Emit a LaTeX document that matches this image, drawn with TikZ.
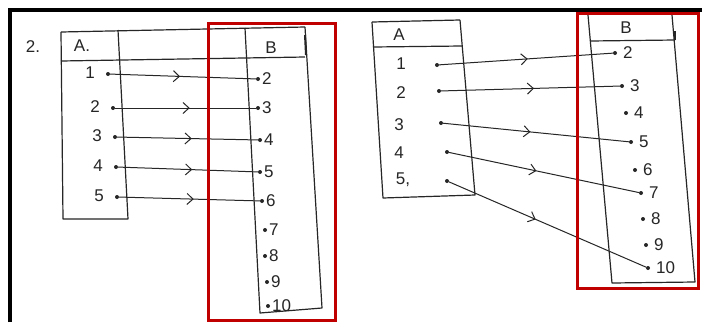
\documentclass[tikz,border=0pt]{standalone}
\usepackage{fontspec}
\setmainfont{Liberation Sans}
\usetikzlibrary{arrows.meta,decorations.markings}
\definecolor{redbox}{HTML}{C00000}
\definecolor{ink}{HTML}{262626}
\begin{document}
\begin{tikzpicture}[x=1pt,y=-1pt,
  frameline/.style={line width=3.5pt,black},
  hl/.style={ink,line width=1.2pt,line join=round},
  redframe/.style={draw=redbox,line width=3pt},
  dotn/.style={circle,fill=ink,inner sep=0pt,minimum size=4pt},
  lbl/.style={font=\fontsize{17}{17}\selectfont,text=ink,inner sep=0pt},
  mapline/.style={ink,line width=1pt,postaction={decorate},
    decoration={markings,mark=at position #1 with {\arrow{Straight Barb[length=6pt,width=11pt,line width=1pt]}}}},
]
\fill[white] (0,0) rectangle (702,322);
\useasboundingbox (0,0) rectangle (702,322);

% outer frame
\draw[frameline] (10,322) -- (10,10) -- (702,10);

% ---------- left diagram ----------
\node[lbl] (num) at (33,47) {2.};
% set A box
\draw[hl] (61,32) -- (305,27);
\draw[hl] (61,61) -- (305,57);
\draw[hl] (61,32) -- (63,219) -- (128,219) -- (118,30);
\node[lbl] (LA) at (82,46) {A.};
% set B box
\draw[hl] (245,28) -- (260,313) -- (322,308) -- (305,27);
\draw[ink,line width=2pt] (305,35) -- (306,55);
\node[lbl] (LB) at (271,48) {B};

% A elements
\foreach \i/\x/\y in {1/108/74,2/113/108,3/115/137,4/116/167,5/117/197}{
  \node[dotn] (la\i) at (\x,\y) {};
  \node[lbl,anchor=east] (lat\i) at (\x-13,\y-1) {\i};
}
% B elements
\foreach \i/\x/\y in {2/258/79,3/258/108,4/260/140,5/260/172,6/262/201,7/265/230,8/265/256,9/267/282,10/268/306}{
  \node[dotn] (lb\i) at (\x,\y) {};
  \node[lbl,anchor=west] (lbt\i) at (\x+4,\y) {\i};
}
\draw[mapline=0.48] (la1) -- (lb2);
\draw[mapline=0.53] (la2) -- (lb3);
\draw[mapline=0.53] (la3) -- (lb4);
\draw[mapline=0.53] (la4) -- (lb5);
\draw[mapline=0.53] (la5) -- (lb6);

\draw[redframe] (208,23) rectangle (335,320);

% ---------- right diagram ----------
\draw[hl] (372,22) -- (460,20);
\draw[hl] (373,47) -- (462,46);
\draw[hl] (372,22) -- (383,198) -- (475,195) -- (460,20);
\node[lbl] (RA) at (399,35) {A};

\draw[hl] (588,15) -- (612,283) -- (695,282) -- (672,15);
\draw[hl] (590,41) -- (675,40);
\draw[ink,line width=2pt] (675,31) -- (675,40);
\node[lbl] (RB) at (626,28) {B};

\foreach \i/\x/\y in {1/437/65,2/439/91,3/441/123,4/447/152,5/447/181}{
  \node[dotn] (ra\i) at (\x,\y) {};
}
\node[lbl] (rat1) at (401,64) {1};
\node[lbl] (rat2) at (401,93) {2};
\node[lbl] (rat3) at (399,125) {3};
\node[lbl] (rat4) at (399,153) {4};
\node[lbl] (rat5) at (403,180) {5,};

\foreach \i/\x/\y in {2/615/53,3/622/86,4/626/113,5/631/142,6/635/170,7/641/193,8/643/219,9/646/245,10/648/268}{
  \node[dotn] (rb\i) at (\x,\y) {};
  \node[lbl,anchor=west] (rbt\i) at (\x+8,\y) {\i};
}
\draw[mapline=0.51] (ra1) -- (rb2);
\draw[mapline=0.52] (ra2) -- (rb3);
\draw[mapline=0.47] (ra3) -- (rb5);
\draw[mapline=0.46] (ra4) -- (rb7);
\draw[mapline=0.44] (ra5) -- (rb10);

\draw[redframe] (577,13) rectangle (698,288);
\end{tikzpicture}
\end{document}
